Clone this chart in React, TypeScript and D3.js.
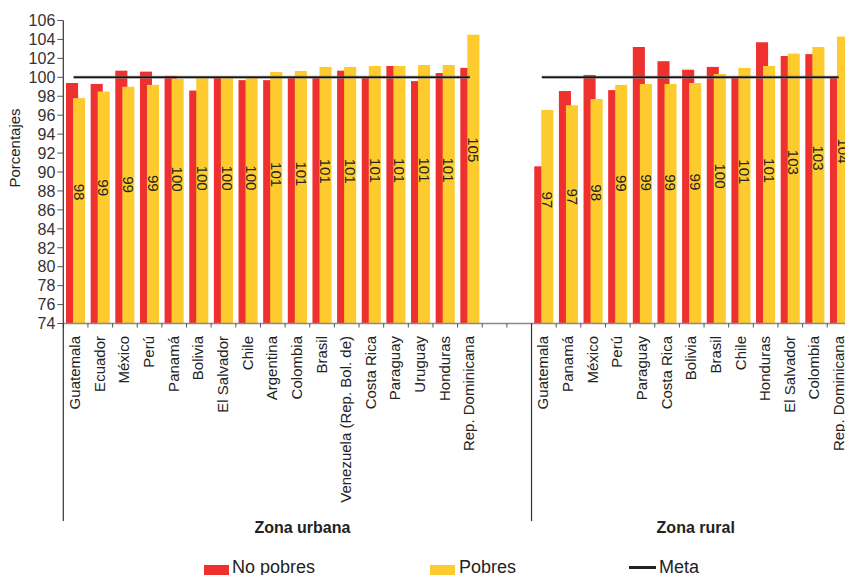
import React, { useEffect } from 'react';
import * as d3 from 'd3';

const urbanCategories = ['Guatemala', 'Ecuador', 'México', 'Perú', 'Panamá', 'Bolivia', 'El Salvador', 'Chile', 'Argentina', 'Colombia', 'Brasil', 'Venezuela (Rep. Bol. de)', 'Costa Rica', 'Paraguay', 'Uruguay', 'Honduras', 'Rep. Dominicana'];
const urbanNoPobres = [99.4, 99.3, 100.7, 100.6, 100.15, 98.6, 100.02, 99.7, 99.7, 100.0, 100.0, 100.7, 99.98, 101.2, 99.6, 100.45, 101.0];
const urbanPobres = [97.8, 98.5, 99.0, 99.2, 99.85, 100.0, 100.02, 100.05, 100.56, 100.67, 101.1, 101.1, 101.2, 101.2, 101.3, 101.3, 104.5];

const ruralCategories = ['Guatemala', 'Panamá', 'México', 'Perú', 'Paraguay', 'Costa Rica', 'Bolivia', 'Brasil', 'Chile', 'Honduras', 'El Salvador', 'Colombia', 'Rep. Dominicana'];
const ruralNoPobres = [90.6, 98.55, 100.25, 98.65, 103.2, 101.7, 100.8, 101.1, 100.0, 103.7, 102.25, 102.45, 100.0];
const ruralPobres = [96.55, 97.05, 97.7, 99.2, 99.3, 99.3, 99.4, 100.35, 101.0, 101.2, 102.5, 103.2, 104.3];

const yTicks = d3.range(74, 107, 2);
const meta = 100;
const groupTitles = ['Zona urbana', 'Zona rural'];
const legendLabels = ['No pobres', 'Pobres', 'Meta'];

const RED = '#EE312F';
const YELLOW = '#FDCB2D';
const FONT = '"Liberation Sans", Arial, Helvetica, sans-serif';

export default function App() {
  useEffect(() => {
    document.body.style.margin = '0';
  }, []);

  const W = 845;
  const H = 575;
  const yScale = d3.scaleLinear().domain([74, 106]).range([323.5, 20.5]);

  const urbanSlots = urbanCategories.map((_, i) => `u${i}`);
  const ruralSlots = ruralCategories.map((_, i) => `r${i}`);
  const slots = [...urbanSlots, 'gap1', 'gap2', ...ruralSlots];
  const xScale = d3.scaleBand<string>().domain(slots).range([63.3, 851.9]).padding(0);
  const bw = xScale.bandwidth();

  type Row = { slot: string; cat: string; np: number; p: number };
  const rows: Row[] = [
    ...urbanCategories.map((c, i) => ({ slot: urbanSlots[i], cat: c, np: urbanNoPobres[i], p: urbanPobres[i] })),
    ...ruralCategories.map((c, i) => ({ slot: ruralSlots[i], cat: c, np: ruralNoPobres[i], p: ruralPobres[i] })),
  ];

  const base = yScale(74);
  const xStart = xScale(slots[0])!;
  const sepX = xScale(ruralSlots[0])!;
  const xEnd = xScale(ruralSlots[ruralSlots.length - 1])! + bw;
  const boundaries = slots.map((s) => xScale(s)!).concat([xEnd]);

  const metaSegs = [
    [xScale(urbanSlots[0])! + bw / 2 - 2, xScale(urbanSlots[urbanSlots.length - 1])! + bw / 2],
    [xScale(ruralSlots[0])! + bw / 2 - 2, xScale(ruralSlots[ruralSlots.length - 1])! + bw / 2 - 1],
  ];

  const labelY = (v: number) => yScale(v) * 0.667 + 126.6;

  return (
    <svg width={W} height={H} style={{ position: 'absolute', left: 0, top: 0, display: 'block', background: '#fff' }} fontFamily={FONT}>
      {/* bars */}
      {rows.map((r) => (
        <g key={r.slot}>
          <rect x={xScale(r.slot)! + bw * 0.11} y={yScale(r.np)} width={bw * 0.49} height={base - yScale(r.np)} fill={RED} />
          <rect x={xScale(r.slot)! + bw * 0.395} y={yScale(r.p)} width={bw * 0.49} height={base - yScale(r.p)} fill={YELLOW} />
        </g>
      ))}
      {/* meta lines */}
      {metaSegs.map(([a, b], i) => (
        <g key={`m${i}`}>
          <line x1={a} x2={b} y1={yScale(meta)} y2={yScale(meta)} stroke="#777" strokeWidth={3} opacity={0.7} />
          <line x1={a} x2={b} y1={yScale(meta)} y2={yScale(meta)} stroke="#111" strokeWidth={1.6} />
        </g>
      ))}
      {/* value labels */}
      {rows.map((r) => (
        <text
          key={`l${r.slot}`}
          transform={`translate(${xScale(r.slot)! + bw * 0.395 + bw * 0.245},${labelY(r.p)}) rotate(90)`}
          textAnchor="middle"
          dy="0.35em"
          fontSize={15}
          fill="#222"
        >
          {d3.format('.0f')(r.p)}
        </text>
      ))}
      {/* x axis */}
      <line x1={xStart} x2={W} y1={base} y2={base} stroke="#8a8a8a" strokeWidth={1.5} />
      {boundaries.map((b, i) => (
        <line key={`t${i}`} x1={b} x2={b} y1={base} y2={base + 4} stroke="#555" strokeWidth={1} />
      ))}
      {/* y axis */}
      <line x1={xStart} x2={xStart} y1={yScale(106)} y2={521} stroke="#333" strokeWidth={1.2} />
      <line x1={sepX} x2={sepX} y1={base} y2={521} stroke="#333" strokeWidth={1.2} />
      {yTicks.map((t) => (
        <g key={`y${t}`}>
          <line x1={xStart - 6} x2={xStart} y1={yScale(t)} y2={yScale(t)} stroke="#555" strokeWidth={1} />
          <text x={xStart - 8} y={yScale(t)} dy="0.36em" textAnchor="end" fontSize={16} fill="#333">
            {t}
          </text>
        </g>
      ))}
      <text transform={`translate(20,148) rotate(-90)`} textAnchor="middle" fontSize={15} fill="#222">
        Porcentajes
      </text>
      {/* category labels */}
      {rows.map((r) => (
        <text
          key={`c${r.slot}`}
          transform={`translate(${xScale(r.slot)! + bw / 2},336) rotate(-90)`}
          textAnchor="end"
          dy="0.3em"
          fontSize={15}
          fill="#222"
        >
          {r.cat}
        </text>
      ))}
      {/* group titles */}
      <text x={(xStart + sepX) / 2 + 5} y={533} textAnchor="middle" fontSize={16} fontWeight="bold" fill="#222">
        {groupTitles[0]}
      </text>
      <text x={(sepX + xEnd) / 2 + 4} y={533} textAnchor="middle" fontSize={16} fontWeight="bold" fill="#222">
        {groupTitles[1]}
      </text>
      {/* legend */}
      <rect x={204} y={565} width={25} height={10} fill={RED} />
      <text x={232} y={573} fontSize={18} fill="#222">{legendLabels[0]}</text>
      <rect x={430} y={565} width={25} height={10} fill={YELLOW} />
      <text x={459} y={573} fontSize={18} fill="#222">{legendLabels[1]}</text>
      <line x1={629} x2={656} y1={567.5} y2={567.5} stroke="#222" strokeWidth={3} />
      <text x={659} y={573} fontSize={18} fill="#222">{legendLabels[2]}</text>
    </svg>
  );
}
